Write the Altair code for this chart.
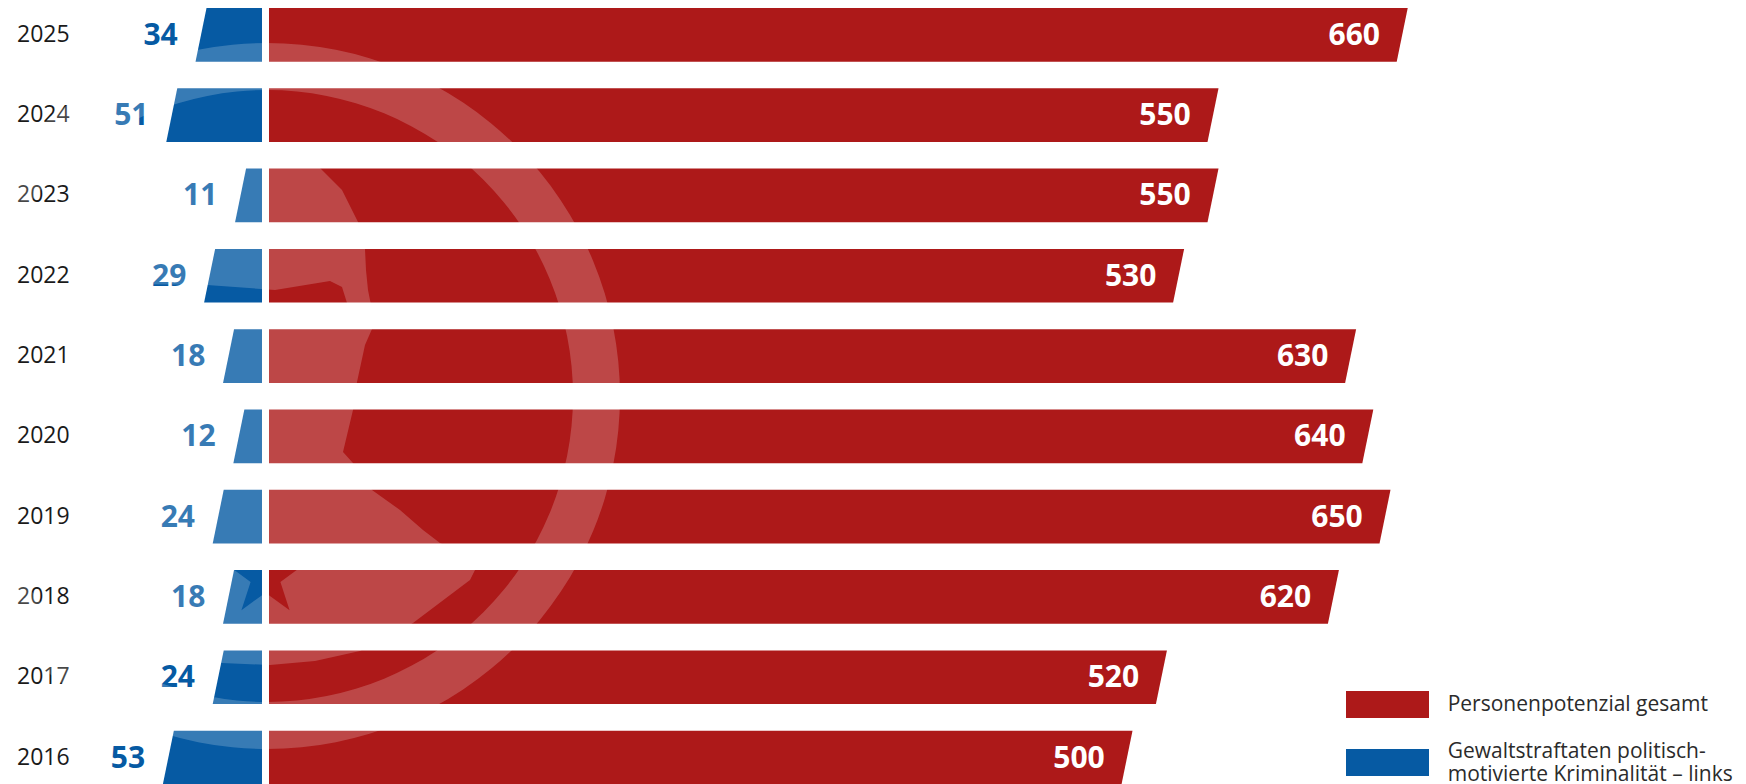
import altair as alt
import pandas as pd

# ---------------- data ----------------
years = ["2025", "2024", "2023", "2022", "2021", "2020", "2019", "2018", "2017", "2016"]
personenpotenzial = [660, 550, 550, 530, 630, 640, 650, 620, 520, 500]
gewaltstraftaten = [34, 51, 11, 29, 18, 12, 24, 18, 24, 53]

series_red = "Personenpotenzial gesamt"
series_blue = "Gewaltstraftaten politisch-|motivierte Kriminalität – links"
series_names = [series_red, series_blue]

RED = "#AD1919"
BLUE = "#065AA3"
FONT = "Open Sans"

HALF = 0.3344   # half bar height (row units)
SLANT = 3.2     # slant of the bar ends (value units)

red_rows, blue_rows, label_rows = [], [], []
for i, (yr, pv, gv) in enumerate(zip(years, personenpotenzial, gewaltstraftaten)):
    red_rows.append(dict(year=yr, series=series_red, edge=i - HALF, start=0, end=pv + SLANT))
    red_rows.append(dict(year=yr, series=series_red, edge=i + HALF, start=0, end=pv - SLANT))
    blue_rows.append(dict(year=yr, series=series_blue, edge=i - HALF, start=-gv + SLANT, end=0))
    blue_rows.append(dict(year=yr, series=series_blue, edge=i + HALF, start=-gv - SLANT, end=0))
    label_rows.append(dict(year=yr, row=i, pot=pv, gew=gv, neg=-gv))

red_df = pd.DataFrame(red_rows)
blue_df = pd.DataFrame(blue_rows)
lab_df = pd.DataFrame(label_rows)
legend_df = pd.DataFrame({"series": series_names})
one = pd.DataFrame({"k": [0]})

x_scale = alt.Scale(domain=[-148.4, 857.4], nice=False, zero=False)
y_scale = alt.Scale(domain=[-0.3344, 9.3294], reverse=True, nice=False, zero=False)
color_scale = alt.Scale(domain=series_names, range=[RED, BLUE])

# legend swatches: wide rectangles (the second one sits lower, centred on its two-line label)
RECT_1 = "M-3.074,-1H3.074V1H-3.074Z"
RECT_2 = "M-3.074,-0.185H3.074V1.815H-3.074Z"
shape_scale = alt.Scale(domain=series_names, range=[RECT_1, RECT_2])

legend = alt.Legend(
    title=None, orient="none", legendX=1366, legendY=683,
    symbolSize=729, symbolStrokeWidth=0, symbolOpacity=1,
    labelFont=FONT, labelFontSize=21, labelColor="#2b2b2b", labelOffset=46.7,
    labelExpr="split(datum.label, '|')", labelLimit=1000, rowPadding=20, padding=0,
)

Y = alt.Y("edge:Q", scale=y_scale, axis=None)
COLOR = alt.Color("series:N", scale=color_scale, legend=legend)

red_area = alt.Chart(red_df).mark_area(
    orient="horizontal", opacity=1, xOffset=5.75, x2Offset=3.75
).encode(
    y=Y,
    x=alt.X("start:Q", scale=x_scale, axis=None, stack=None),
    x2="end:Q",
    color=COLOR,
    detail="year:N",
)

blue_area = alt.Chart(blue_df).mark_area(
    orient="horizontal", opacity=1, xOffset=-3.75, x2Offset=-1.25
).encode(
    y=Y,
    x=alt.X("start:Q", scale=x_scale, axis=None, stack=None),
    x2="end:Q",
    color=COLOR,
    detail="year:N",
)

# carrier of the legend symbols (drawn off-canvas)
legend_keys = alt.Chart(legend_df).mark_point(filled=True, opacity=1, size=4).encode(
    x=alt.value(-200), y=alt.value(-200),
    color=COLOR,
    shape=alt.Shape("series:N", scale=shape_scale, legend=legend),
)

Yr = alt.Y("row:Q", scale=y_scale, axis=None)

year_text = alt.Chart(lab_df).mark_text(
    align="left", baseline="middle", font=FONT, fontSize=23, color="#1a1a1a"
).encode(x=alt.value(9), y=Yr, text="year:N")

red_text = alt.Chart(lab_df).mark_text(
    align="right", baseline="middle", dx=-18.5, dy=1, font=FONT, fontSize=30,
    fontWeight="bold", color="white"
).encode(x=alt.X("pot:Q", scale=x_scale, axis=None), y=Yr, text="pot:Q")

blue_text = alt.Chart(lab_df).mark_text(
    align="right", baseline="middle", dx=-27, dy=1, font=FONT, fontSize=30,
    fontWeight="bold", color=BLUE
).encode(x=alt.X("neg:Q", scale=x_scale, axis=None), y=Yr, text="gew:Q")

# ---------------- decorative watermark (logo) ----------------
ring = alt.Chart(one).mark_arc(
    radius=353, radius2=306, theta=0, theta2=6.2832, fill="white", opacity=0.2
).encode(x=alt.value(259), y=alt.value(388))

LOGO = (
    "M-127,-221L-87,-244L-37,-251L8,-248L53,-228L75,-206L91,-174L98,-147L99,-126"
    "L101,-106L105,-86L105,-67L98,-51L90,-14L86,14L76,56L86,67L105,94L133,114"
    "L156,134L173,147L198,159L209,172L203,184L146,227L93,255L48,265L3,269"
    "L-45,267L-97,259L-122,244L-132,204L-137,104L-137,4L-135,-78"
    "L68,-81L80,-93L75,-109L63,-115L8,-106L-60,-111L-135,-112L-135,-156L-132,-196Z"
    "M-1.5,140L-10.7,168.3L-40.5,168.3L-16.4,185.9L-25.6,214.2L-1.5,196.7"
    "L22.6,214.2L13.4,185.9L37.5,168.3L7.7,168.3Z"
)
logo = alt.Chart(one).mark_point(
    shape=LOGO, size=4, filled=True, fill="white", opacity=0.2, strokeWidth=0
).encode(x=alt.value(259), y=alt.value(388))

chart = alt.layer(
    blue_area, red_area, legend_keys, year_text, blue_text, red_text, ring, logo
).properties(
    width=1730, height=776, padding=0, autosize=alt.AutoSizeParams(type="none")
).configure_view(stroke=None)

chart.save("out.html", embed_options={"renderer": "svg", "actions": False})
